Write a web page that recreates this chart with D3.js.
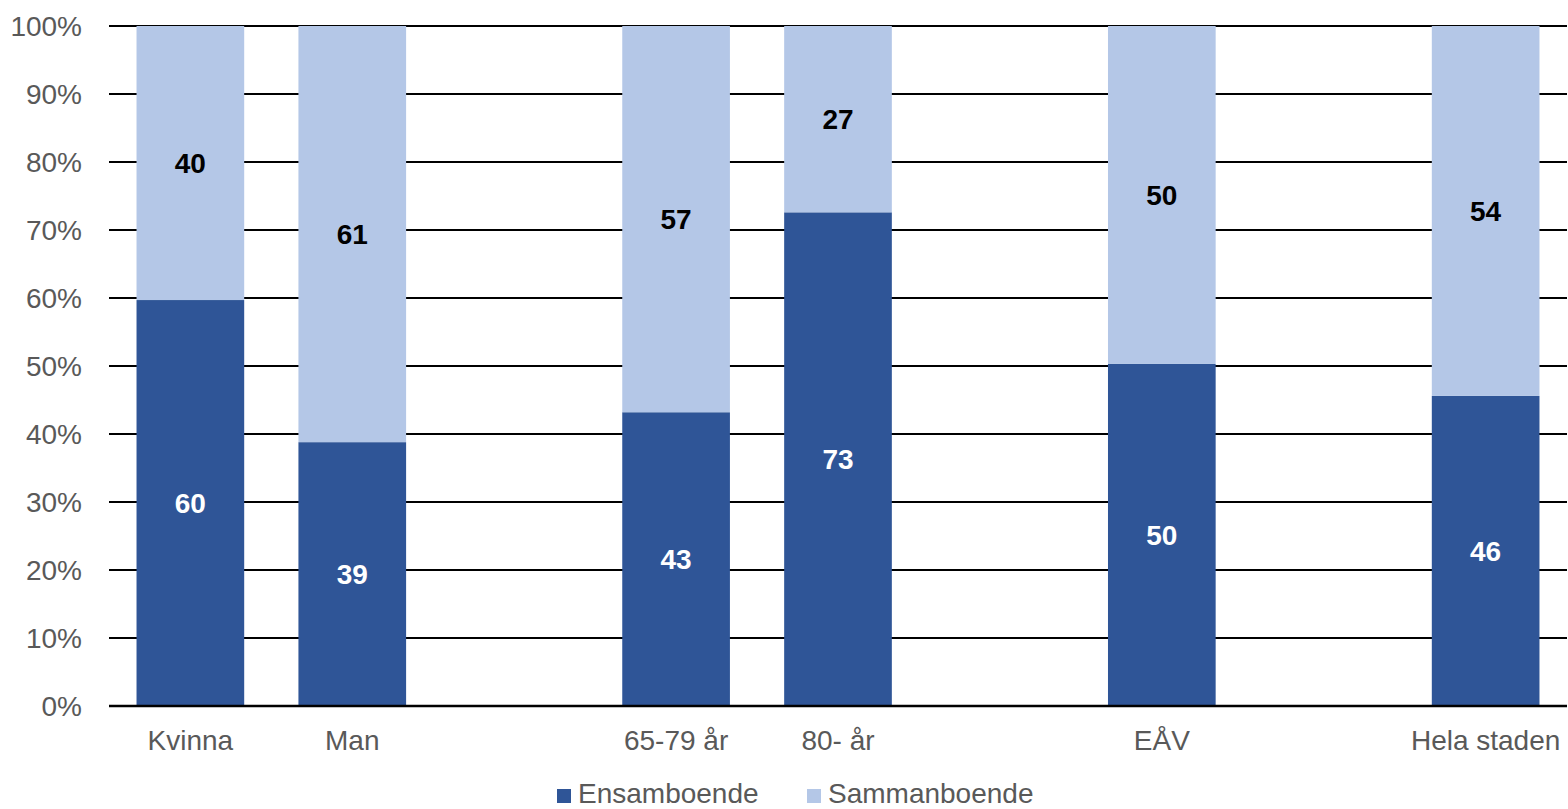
<!DOCTYPE html>
<html><head><meta charset="utf-8">
<script src="https://cdn.jsdelivr.net/npm/d3@7"></script>
<style>body{margin:0;background:#fff}svg{display:block}text{font-family:"Liberation Sans",Arial,sans-serif}</style>
</head><body><svg id="c" width="1568" height="809"></svg>
<script>
const categories = ["Kvinna","Man","","65-79 år","80- år","","EÅV","","Hela staden"];
const ensamboende = [59.7,38.8,null,43.2,72.6,null,50.3,null,45.6];
const sammanboende = [40.3,61.2,null,56.8,27.4,null,49.7,null,54.4];
const ensamLabels = ["60","39","","43","73","","50","","46"];
const sammanLabels = ["40","61","","57","27","","50","","54"];
const yTicks = [0,10,20,30,40,50,60,70,80,90,100];
const seriesNames = ["Ensamboende","Sammanboende"];
const colors = ["#2F5597","#B4C7E7"];

(function(){
const svg = d3.select("#c");
const mLeft = 109, mRight = 1567, mTop = 26, mBottom = 706;
const x = d3.scaleBand().domain(d3.range(categories.length)).range([mLeft,mRight]).paddingInner(0.335).paddingOuter(0.17);
const y = d3.scaleLinear().domain([0,100]).range([mBottom,mTop]);

svg.append("g").selectAll("line").data(yTicks).join("line")
  .attr("x1",mLeft).attr("x2",mRight).attr("y1",d=>y(d)).attr("y2",d=>y(d))
  .attr("stroke","#000").attr("stroke-width",2);
svg.append("g").selectAll("text").data(yTicks).join("text")
  .attr("x",82).attr("y",d=>y(d)).attr("dy","0.35em").attr("text-anchor","end")
  .attr("font-size",28).attr("fill","#595959").text(d=>d+"%");

const idx = d3.range(categories.length).filter(i=>ensamboende[i]!=null);
const g = svg.append("g");
g.selectAll("rect.e").data(idx).join("rect").attr("class","e")
  .attr("x",i=>x(i)).attr("width",x.bandwidth())
  .attr("y",i=>y(ensamboende[i])).attr("height",i=>y(0)-y(ensamboende[i]))
  .attr("fill",colors[0]);
g.selectAll("rect.s").data(idx).join("rect").attr("class","s")
  .attr("x",i=>x(i)).attr("width",x.bandwidth())
  .attr("y",i=>y(ensamboende[i]+sammanboende[i])).attr("height",i=>y(ensamboende[i])-y(ensamboende[i]+sammanboende[i]))
  .attr("fill",colors[1]);
svg.append("line").attr("x1",mLeft).attr("x2",mRight).attr("y1",y(0)).attr("y2",y(0)).attr("stroke","#000").attr("stroke-width",2.5);

g.selectAll("text.e").data(idx).join("text").attr("class","e")
  .attr("x",i=>x(i)+x.bandwidth()/2).attr("y",i=>y(ensamboende[i]/2)).attr("dy","0.35em")
  .attr("text-anchor","middle").attr("font-size",28).attr("font-weight","bold").attr("fill","#fff")
  .text(i=>ensamLabels[i]);
g.selectAll("text.s").data(idx).join("text").attr("class","s")
  .attr("x",i=>x(i)+x.bandwidth()/2).attr("y",i=>y(ensamboende[i]+sammanboende[i]/2)).attr("dy","0.35em")
  .attr("text-anchor","middle").attr("font-size",28).attr("font-weight","bold").attr("fill","#000")
  .text(i=>sammanLabels[i]);

svg.append("g").selectAll("text").data(idx).join("text")
  .attr("x",i=>x(i)+x.bandwidth()/2).attr("y",740).attr("dy","0.35em").attr("text-anchor","middle")
  .attr("font-size",28).attr("fill","#595959").text(i=>categories[i]);

const lg = svg.append("g");
const lx = [557, 807];
seriesNames.forEach((n,k)=>{
  lg.append("rect").attr("x",lx[k]).attr("y",789).attr("width",14).attr("height",14).attr("fill",colors[k]);
  lg.append("text").attr("x",lx[k]+21).attr("y",803).attr("font-size",28).attr("fill","#595959").text(n);
});
})();
</script></body></html>
